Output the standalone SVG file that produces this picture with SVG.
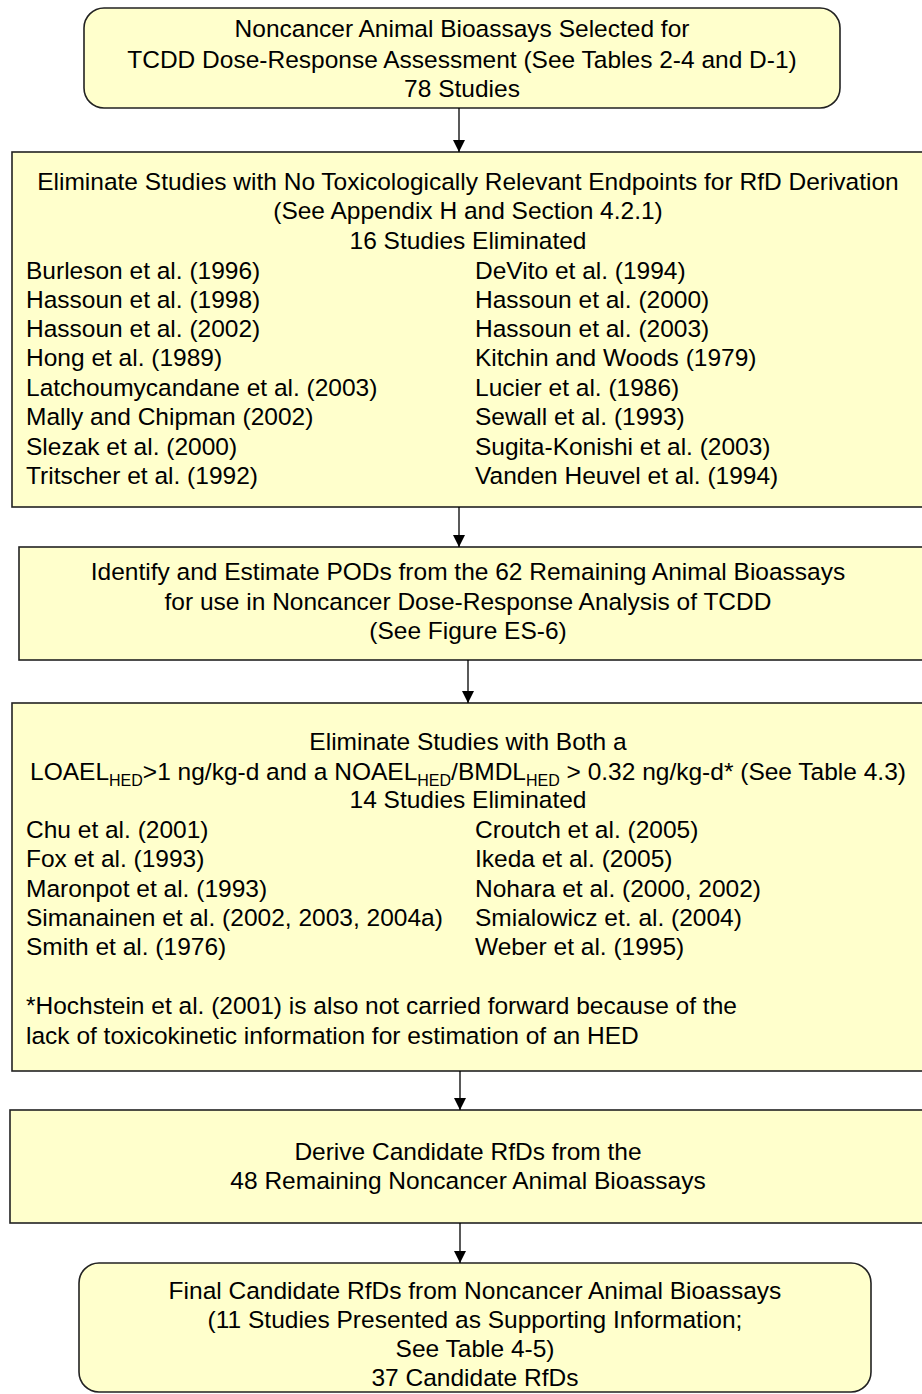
<svg xmlns="http://www.w3.org/2000/svg" width="922" height="1394" viewBox="0 0 922 1394">
<defs>
<style>
.box{fill:#FFFFCC;stroke:#222;stroke-width:1.6}
text{font-family:"Liberation Sans",Arial,sans-serif;font-size:24.5px;fill:#000}
.c{text-anchor:middle}
.sub{font-size:16px}
.conn line{stroke:#000;stroke-width:1.3}
</style>
<marker id="ah" markerUnits="userSpaceOnUse" markerWidth="12" markerHeight="12" refX="12" refY="6" orient="auto">
<path d="M0,0 L12,6 L0,12 z" fill="#000"/>
</marker>
</defs>
<rect width="922" height="1394" fill="#fff"/>

<g id="n1">
<rect class="box" x="84" y="8" width="756" height="100" rx="20"/>
<text class="c" x="462" y="37">Noncancer Animal Bioassays Selected for</text>
<text class="c" x="462" y="67.5">TCDD Dose-Response Assessment (See Tables 2-4 and D-1)</text>
<text class="c" x="462" y="97">78 Studies</text>
</g>

<g id="n2">
<rect class="box" x="12" y="152" width="920" height="355"/>
<text class="c" x="468" y="189.5">Eliminate Studies with No Toxicologically Relevant Endpoints for RfD Derivation</text>
<text class="c" x="468" y="219">(See Appendix H and Section 4.2.1)</text>
<text class="c" x="468" y="248.5">16 Studies Eliminated</text>
<text x="26" y="278.5">Burleson et al. (1996)</text>
<text x="475" y="278.5">DeVito et al. (1994)</text>
<text x="26" y="307.5">Hassoun et al. (1998)</text>
<text x="475" y="307.5">Hassoun et al. (2000)</text>
<text x="26" y="336.5">Hassoun et al. (2002)</text>
<text x="475" y="336.5">Hassoun et al. (2003)</text>
<text x="26" y="366">Hong et al. (1989)</text>
<text x="475" y="366">Kitchin and Woods (1979)</text>
<text x="26" y="395.5">Latchoumycandane et al. (2003)</text>
<text x="475" y="395.5">Lucier et al. (1986)</text>
<text x="26" y="425">Mally and Chipman  (2002)</text>
<text x="475" y="425">Sewall et al. (1993)</text>
<text x="26" y="454.5">Slezak et al. (2000)</text>
<text x="475" y="454.5">Sugita-Konishi et al. (2003)</text>
<text x="26" y="484">Tritscher et al.  (1992)</text>
<text x="475" y="484">Vanden Heuvel et al. (1994)</text>
</g>

<g id="n3">
<rect class="box" x="19" y="547" width="915" height="113"/>
<text class="c" x="468" y="580">Identify and Estimate PODs from the 62 Remaining Animal Bioassays</text>
<text class="c" x="468" y="609.5">for use in Noncancer Dose-Response Analysis of TCDD</text>
<text class="c" x="468" y="639">(See Figure ES-6)</text>
</g>

<g id="n4">
<rect class="box" x="12" y="703" width="920" height="368"/>
<text class="c" x="468" y="749.5">Eliminate Studies with Both a</text>
<text class="c" x="468" y="779.5">LOAEL<tspan class="sub" dy="6">HED</tspan><tspan dy="-6">&gt;1 ng/kg-d and a NOAEL</tspan><tspan class="sub" dy="6">HED</tspan><tspan dy="-6">/BMDL</tspan><tspan class="sub" dy="6">HED</tspan><tspan dy="-6"> &gt; 0.32 ng/kg-d* (See Table 4.3)</tspan></text>
<text class="c" x="468" y="808">14 Studies Eliminated</text>
<text x="26" y="838">Chu et al. (2001)</text>
<text x="475" y="838">Croutch et al. (2005)</text>
<text x="26" y="867">Fox et al. (1993)</text>
<text x="475" y="867">Ikeda et al. (2005)</text>
<text x="26" y="896.5">Maronpot et al. (1993)</text>
<text x="475" y="896.5">Nohara et al. (2000, 2002)</text>
<text x="26" y="925.5">Simanainen et al. (2002, 2003, 2004a)</text>
<text x="475" y="925.5">Smialowicz et. al. (2004)</text>
<text x="26" y="955">Smith et al. (1976)</text>
<text x="475" y="955">Weber et al. (1995)</text>
<text x="26" y="1014">*Hochstein et al. (2001) is also not carried forward because of the</text>
<text x="26" y="1043.5">lack of toxicokinetic information for estimation of an HED</text>
</g>

<g id="n5">
<rect class="box" x="10" y="1110" width="920" height="113"/>
<text class="c" x="468" y="1159.5">Derive Candidate RfDs from the</text>
<text class="c" x="468" y="1189">48 Remaining Noncancer  Animal Bioassays</text>
</g>

<g id="n6">
<rect class="box" x="79" y="1263" width="792" height="129" rx="20"/>
<text class="c" x="475" y="1298.5">Final Candidate RfDs from Noncancer  Animal Bioassays</text>
<text class="c" x="475" y="1328">(11 Studies Presented as Supporting Information;</text>
<text class="c" x="475" y="1357">See Table 4-5)</text>
<text class="c" x="475" y="1386">37 Candidate RfDs</text>
</g>

<g id="connectors" class="conn">
<line x1="459" y1="108" x2="459" y2="152" marker-end="url(#ah)"/>
<line x1="459" y1="507" x2="459" y2="547" marker-end="url(#ah)"/>
<line x1="468" y1="660" x2="468" y2="703" marker-end="url(#ah)"/>
<line x1="460" y1="1071" x2="460" y2="1110" marker-end="url(#ah)"/>
<line x1="460" y1="1223" x2="460" y2="1263" marker-end="url(#ah)"/>
</g>
</svg>
